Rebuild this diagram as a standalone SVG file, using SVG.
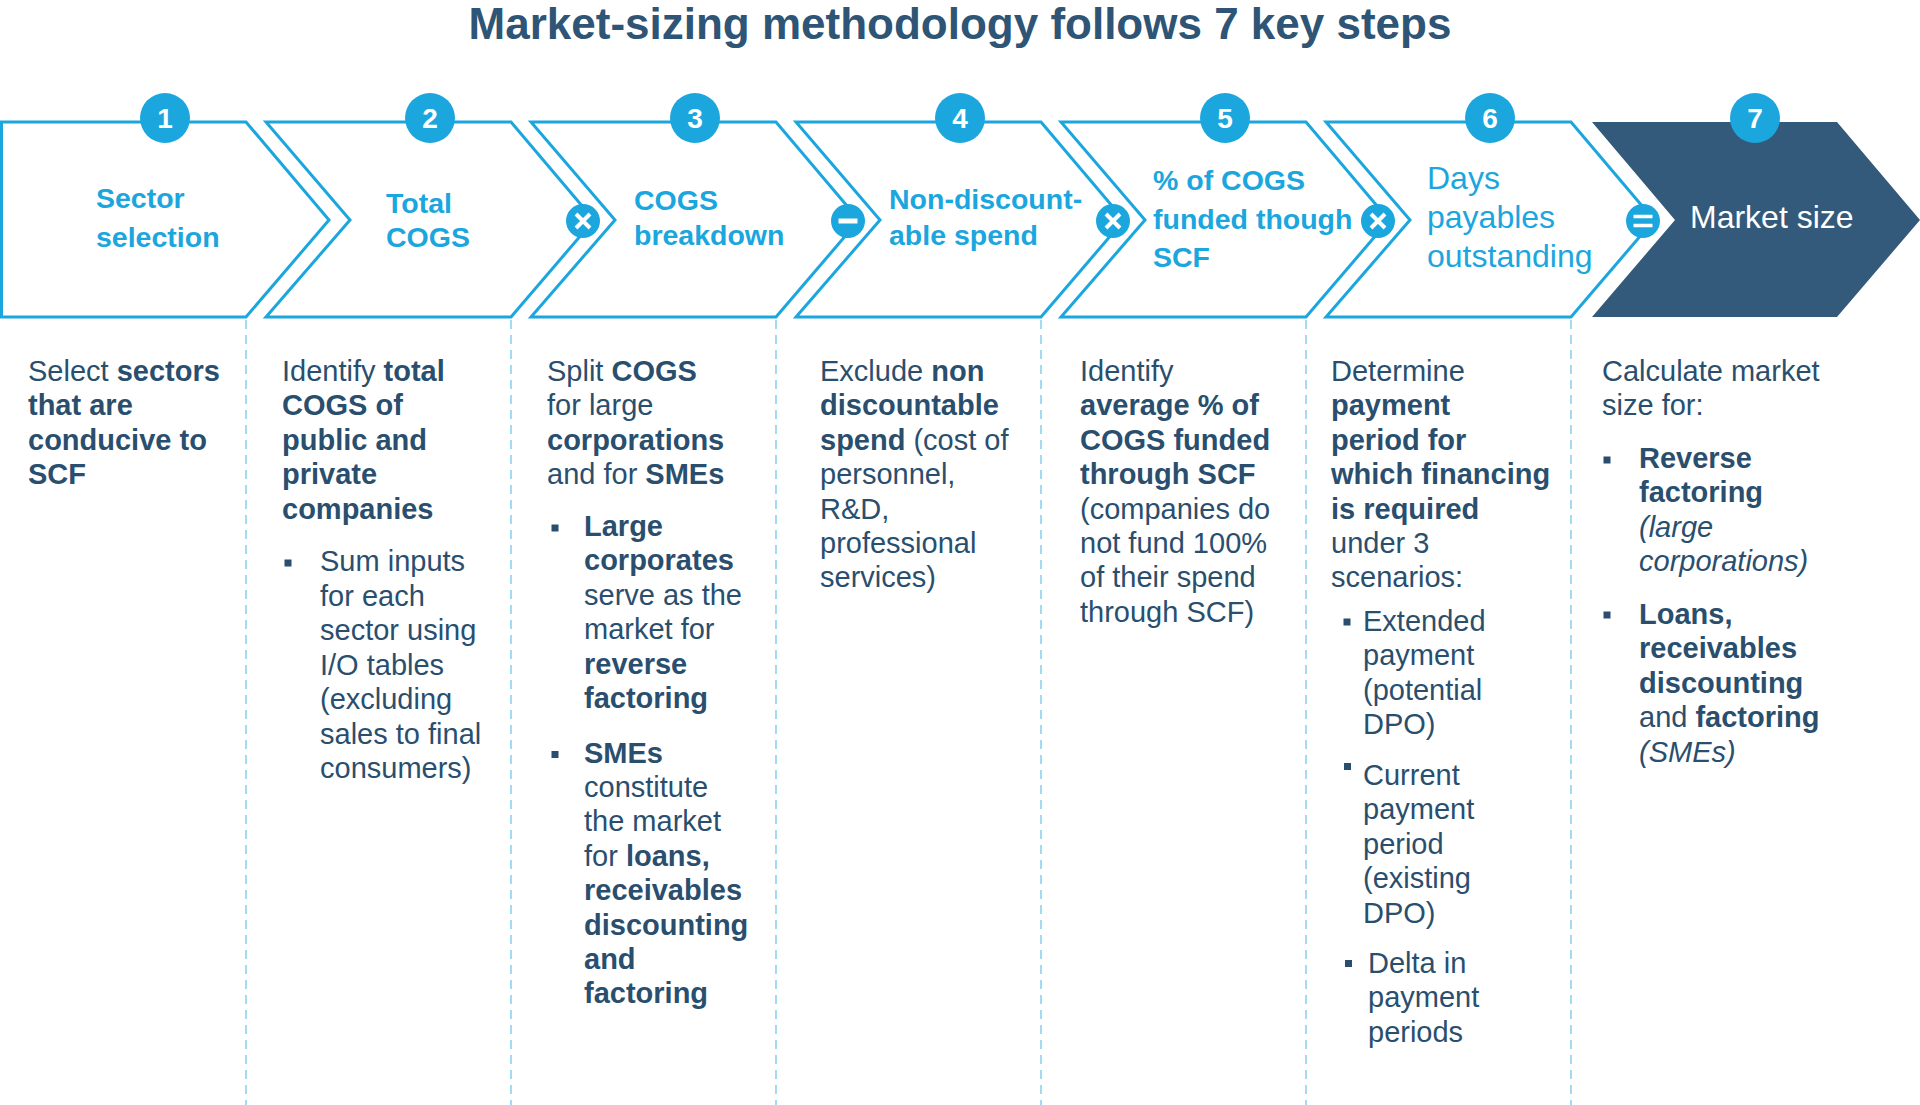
<svg xmlns="http://www.w3.org/2000/svg" width="1920" height="1105" viewBox="0 0 1920 1105">
<style>
  .chev { fill: #ffffff; stroke: #1BA6DE; stroke-width: 3; stroke-linejoin: miter; }
  .dark { fill: #335A7A; stroke: none; }
  .sep { stroke: #8DD2F0; stroke-width: 1.6; stroke-dasharray: 9 6; fill: none; }
  .num { fill: #1BA6DE; }
  .numt { font-family: "Liberation Sans", Arial, sans-serif; font-weight: bold; font-size: 28px; fill: #ffffff; text-anchor: middle; }
  .op { fill: #1BA6DE; }
  .opl { stroke: #ffffff; stroke-width: 4; stroke-linecap: butt; fill: none; }
  .hd { font-family: "Liberation Sans", Arial, sans-serif; font-weight: bold; font-size: 28.5px; fill: #1BA6DE; }
  .hdr { font-family: "Liberation Sans", Arial, sans-serif; font-size: 32px; fill: #1BA6DE; }
  .hdw { font-family: "Liberation Sans", Arial, sans-serif; font-size: 32px; fill: #ffffff; }
  .title { font-family: "Liberation Sans", Arial, sans-serif; font-weight: bold; font-size: 44px; fill: #2E5575; text-anchor: middle; }
  .tx { font-family: "Liberation Sans", Arial, sans-serif; font-size: 29px; fill: #2A4F6E; }
  .b { font-weight: bold; }
  .i { font-style: italic; }
  .bul { fill: #2A4F6E; }
</style>

<text class="title" x="960" y="39">Market-sizing methodology follows 7 key steps</text>

<g id="connectors">
  <line class="sep" x1="246" y1="320" x2="246" y2="1105"/>
  <line class="sep" x1="511" y1="320" x2="511" y2="1105"/>
  <line class="sep" x1="776" y1="320" x2="776" y2="1105"/>
  <line class="sep" x1="1041" y1="320" x2="1041" y2="1105"/>
  <line class="sep" x1="1306" y1="320" x2="1306" y2="1105"/>
  <line class="sep" x1="1571" y1="320" x2="1571" y2="1105"/>
</g>

<g id="step1">
  <path class="chev" d="M1.5,122 L246,122 L329,220 L246,317 L1.5,317 Z"/>
  <circle class="num" cx="165" cy="118" r="25"/>
  <text class="numt" x="165" y="128">1</text>
  <text class="hd" x="96" y="208">Sector</text>
  <text class="hd" x="96" y="247">selection</text>
  <text class="tx" x="28" y="381">Select <tspan class="b">sectors</tspan></text>
  <text class="tx b" x="28" y="415.4">that are</text>
  <text class="tx b" x="28" y="449.8">conducive to</text>
  <text class="tx b" x="28" y="484.2">SCF</text>
</g>

<g id="step2">
  <path class="chev" d="M266,122 L511,122 L594,220 L511,317 L266,317 L350,220 Z"/>
  <circle class="num" cx="430" cy="118" r="25"/>
  <text class="numt" x="430" y="128">2</text>
  <text class="hd" x="386" y="213">Total</text>
  <text class="hd" x="386" y="247">COGS</text>
  <text class="tx" x="282" y="381">Identify <tspan class="b">total</tspan></text>
  <text class="tx b" x="282" y="415.4">COGS of</text>
  <text class="tx b" x="282" y="449.8">public and</text>
  <text class="tx b" x="282" y="484.2">private</text>
  <text class="tx b" x="282" y="518.6">companies</text>
  <rect class="bul" x="284.5" y="559.5" width="7" height="7"/>
  <text class="tx" x="320" y="571">Sum inputs</text>
  <text class="tx" x="320" y="605.5">for each</text>
  <text class="tx" x="320" y="640">sector using</text>
  <text class="tx" x="320" y="674.5">I/O tables</text>
  <text class="tx" x="320" y="709">(excluding</text>
  <text class="tx" x="320" y="743.5">sales to final</text>
  <text class="tx" x="320" y="778">consumers)</text>
</g>

<g id="step3">
  <path class="chev" d="M531,122 L776,122 L859,220 L776,317 L531,317 L615,220 Z"/>
  <circle class="num" cx="695" cy="118" r="25"/>
  <text class="numt" x="695" y="128">3</text>
  <text class="hd" x="634" y="210">COGS</text>
  <text class="hd" x="634" y="245">breakdown</text>
  <text class="tx" x="547" y="381">Split <tspan class="b">COGS</tspan></text>
  <text class="tx" x="547" y="415.4">for large</text>
  <text class="tx b" x="547" y="449.8">corporations</text>
  <text class="tx" x="547" y="484.2">and for <tspan class="b">SMEs</tspan></text>
  <rect class="bul" x="551.5" y="524.5" width="7" height="7"/>
  <text class="tx b" x="584" y="536">Large</text>
  <text class="tx b" x="584" y="570.4">corporates</text>
  <text class="tx" x="584" y="604.8">serve as the</text>
  <text class="tx" x="584" y="639.2">market for</text>
  <text class="tx b" x="584" y="673.6">reverse</text>
  <text class="tx b" x="584" y="708">factoring</text>
  <rect class="bul" x="551.5" y="751" width="7" height="7"/>
  <text class="tx b" x="584" y="762.5">SMEs</text>
  <text class="tx" x="584" y="796.9">constitute</text>
  <text class="tx" x="584" y="831.3">the market</text>
  <text class="tx" x="584" y="865.7">for <tspan class="b">loans,</tspan></text>
  <text class="tx b" x="584" y="900.1">receivables</text>
  <text class="tx b" x="584" y="934.5">discounting</text>
  <text class="tx b" x="584" y="968.9">and</text>
  <text class="tx b" x="584" y="1003.3">factoring</text>
</g>

<g id="step4">
  <path class="chev" d="M796,122 L1041,122 L1124,220 L1041,317 L796,317 L880,220 Z"/>
  <circle class="num" cx="960" cy="118" r="25"/>
  <text class="numt" x="960" y="128">4</text>
  <text class="hd" x="889" y="209">Non-discount-</text>
  <text class="hd" x="889" y="245">able spend</text>
  <text class="tx" x="820" y="381">Exclude <tspan class="b">non</tspan></text>
  <text class="tx b" x="820" y="415.4">discountable</text>
  <text class="tx" x="820" y="449.8"><tspan class="b">spend</tspan> (cost of</text>
  <text class="tx" x="820" y="484.2">personnel,</text>
  <text class="tx" x="820" y="518.6">R&amp;D,</text>
  <text class="tx" x="820" y="553">professional</text>
  <text class="tx" x="820" y="587.4">services)</text>
</g>

<g id="step5">
  <path class="chev" d="M1061,122 L1306,122 L1389,220 L1306,317 L1061,317 L1145,220 Z"/>
  <circle class="num" cx="1225" cy="118" r="25"/>
  <text class="numt" x="1225" y="128">5</text>
  <text class="hd" x="1153" y="190">% of COGS</text>
  <text class="hd" x="1153" y="228.5">funded though</text>
  <text class="hd" x="1153" y="267">SCF</text>
  <text class="tx" x="1080" y="381">Identify</text>
  <text class="tx b" x="1080" y="415.4">average % of</text>
  <text class="tx b" x="1080" y="449.8">COGS funded</text>
  <text class="tx b" x="1080" y="484.2">through SCF</text>
  <text class="tx" x="1080" y="518.6">(companies do</text>
  <text class="tx" x="1080" y="553">not fund 100%</text>
  <text class="tx" x="1080" y="587.4">of their spend</text>
  <text class="tx" x="1080" y="621.8">through SCF)</text>
</g>

<g id="step6">
  <path class="chev" d="M1326,122 L1571,122 L1654,220 L1571,317 L1326,317 L1410,220 Z"/>
  <circle class="num" cx="1490" cy="118" r="25"/>
  <text class="numt" x="1490" y="128">6</text>
  <text class="hdr" x="1427" y="189">Days</text>
  <text class="hdr" x="1427" y="228">payables</text>
  <text class="hdr" x="1427" y="267">outstanding</text>
  <text class="tx" x="1331" y="381">Determine</text>
  <text class="tx b" x="1331" y="415.4">payment</text>
  <text class="tx b" x="1331" y="449.8">period for</text>
  <text class="tx b" x="1331" y="484.2">which financing</text>
  <text class="tx b" x="1331" y="518.6">is required</text>
  <text class="tx" x="1331" y="553">under 3</text>
  <text class="tx" x="1331" y="587.4">scenarios:</text>
  <rect class="bul" x="1343.5" y="618.5" width="7" height="7"/>
  <text class="tx" x="1363" y="631">Extended</text>
  <text class="tx" x="1363" y="665.4">payment</text>
  <text class="tx" x="1363" y="699.8">(potential</text>
  <text class="tx" x="1363" y="734.2">DPO)</text>
  <rect class="bul" x="1344" y="763" width="7" height="7"/>
  <text class="tx" x="1363" y="785">Current</text>
  <text class="tx" x="1363" y="819.4">payment</text>
  <text class="tx" x="1363" y="853.8">period</text>
  <text class="tx" x="1363" y="888.2">(existing</text>
  <text class="tx" x="1363" y="922.6">DPO)</text>
  <rect class="bul" x="1345" y="960" width="7" height="7"/>
  <text class="tx" x="1368" y="973">Delta in</text>
  <text class="tx" x="1368" y="1007.4">payment</text>
  <text class="tx" x="1368" y="1041.8">periods</text>
</g>

<g id="step7">
  <path class="dark" d="M1592,122 L1837,122 L1920,220 L1837,317 L1592,317 L1675,220 Z"/>
  <circle class="num" cx="1755" cy="118" r="25"/>
  <text class="numt" x="1755" y="128">7</text>
  <text class="hdw" x="1690" y="228">Market size</text>
  <text class="tx" x="1602" y="381">Calculate market</text>
  <text class="tx" x="1602" y="415.4">size for:</text>
  <rect class="bul" x="1603.5" y="456.5" width="7" height="7"/>
  <text class="tx b" x="1639" y="468">Reverse</text>
  <text class="tx b" x="1639" y="502.4">factoring</text>
  <text class="tx i" x="1639" y="536.8">(large</text>
  <text class="tx i" x="1639" y="571.2">corporations)</text>
  <rect class="bul" x="1603.5" y="611.5" width="7" height="7"/>
  <text class="tx b" x="1639" y="624">Loans,</text>
  <text class="tx b" x="1639" y="658.4">receivables</text>
  <text class="tx b" x="1639" y="692.8">discounting</text>
  <text class="tx" x="1639" y="727.2">and <tspan class="b">factoring</tspan></text>
  <text class="tx i" x="1639" y="761.6">(SMEs)</text>
</g>

<g id="operators">
  <g id="op-times-1" transform="translate(583,221)">
    <circle class="op" r="17"/>
    <path class="opl" d="M-7,-7 L7,7 M-7,7 L7,-7"/>
  </g>
  <g id="op-minus" transform="translate(848,221)">
    <circle class="op" r="17"/>
    <path class="opl" d="M-9.5,0 L9.5,0" style="stroke-width:5"/>
  </g>
  <g id="op-times-2" transform="translate(1113,221)">
    <circle class="op" r="17"/>
    <path class="opl" d="M-7,-7 L7,7 M-7,7 L7,-7"/>
  </g>
  <g id="op-times-3" transform="translate(1378,221)">
    <circle class="op" r="17"/>
    <path class="opl" d="M-7,-7 L7,7 M-7,7 L7,-7"/>
  </g>
  <g id="op-equals" transform="translate(1643,221)">
    <circle class="op" r="17"/>
    <path class="opl" d="M-9.5,-4.5 L9.5,-4.5 M-9.5,4.5 L9.5,4.5" style="stroke-width:3.5"/>
  </g>
</g>
</svg>
